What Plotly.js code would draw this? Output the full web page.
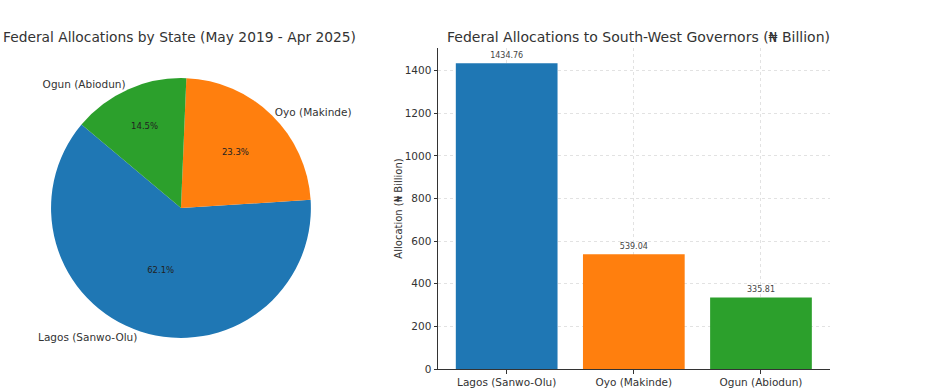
<!DOCTYPE html>
<html>
<head>
<meta charset="utf-8">
<script src="https://cdn.plot.ly/plotly-3.0.1.min.js"></script>
<style>html,body{margin:0;padding:0;background:#fff;}#chart{width:928px;height:390px;}</style>
</head>
<body>
<div id="chart"></div>
<script>
const governors = ["Lagos (Sanwo-Olu)", "Oyo (Makinde)", "Ogun (Abiodun)"];
const allocations = [1434.76, 539.04, 335.81];
const colors = ["#1f77b4", "#ff7f0e", "#2ca02c"];
const pieTitle = "Federal Allocations by State (May 2019 - Apr 2025)";
const barTitle = "Federal Allocations to South-West Governors (₦ Billion)";
const yTitle = "Allocation (₦ Billion)";
const yTicks = [0, 200, 400, 600, 800, 1000, 1200, 1400];

const font = "DejaVu Sans, sans-serif";
const pieDomain = {x: [0.055, 0.335], y: [0.1333, 0.8]};
const pieRotation = 86.4;

const piePct = {
  type: "pie", labels: governors, values: allocations, sort: false,
  direction: "counterclockwise", rotation: pieRotation,
  marker: {colors: colors, line: {width: 0}},
  textinfo: "percent", texttemplate: "%{percent:.1%}", textposition: "inside",
  insidetextorientation: "horizontal",
  textfont: {family: font, size: 8.5, color: "#222"},
  domain: pieDomain, showlegend: false, hoverinfo: "skip"
};
const pieLbl = {
  type: "pie", labels: governors, values: allocations, sort: false,
  direction: "counterclockwise", rotation: pieRotation,
  marker: {colors: ["rgba(0,0,0,0)", "rgba(0,0,0,0)", "rgba(0,0,0,0)"], line: {width: 0}},
  textinfo: "label", textposition: "outside",
  outsidetextfont: {family: font, size: 10.5, color: "#333"},
  domain: pieDomain, showlegend: false, hoverinfo: "skip"
};
const bars = {
  type: "bar", x: governors, y: allocations, xaxis: "x", yaxis: "y",
  marker: {color: colors, line: {width: 0}}, width: 0.8,
  text: allocations.map(v => v.toFixed(2)), textposition: "outside",
  textfont: {family: font, size: 8, color: "#444"}, cliponaxis: false,
  showlegend: false, hoverinfo: "skip"
};

const layout = {
  width: 928, height: 390,
  margin: {l: 0, r: 0, t: 0, b: 0},
  paper_bgcolor: "#fff", plot_bgcolor: "#fff",
  font: {family: font, color: "#333"},
  xaxis: {
    domain: [0.472, 0.894], range: [-0.54, 2.54], type: "category",
    showline: true, linecolor: "#333", linewidth: 1, mirror: false,
    ticks: "outside", ticklen: 3.5, tickcolor: "#333",
    showgrid: true, gridcolor: "rgba(190,190,190,0.55)", griddash: "dot", gridwidth: 0.8,
    tickfont: {family: font, size: 10.5, color: "#333"}, layer: "above traces",
    zeroline: false, fixedrange: true
  },
  yaxis: {
    domain: [0.0538, 0.877], range: [0, 1506.5],
    tickvals: yTicks, ticktext: yTicks.map(String),
    showline: true, linecolor: "#333", linewidth: 1, mirror: false,
    ticks: "outside", ticklen: 3.5, tickcolor: "#333",
    showgrid: true, gridcolor: "rgba(190,190,190,0.55)", griddash: "dot", gridwidth: 0.8,
    tickfont: {family: font, size: 10.5, color: "#333"}, layer: "above traces",
    zeroline: false,
    title: {text: yTitle, font: {family: font, size: 10, color: "#333"}, standoff: 0}
  },
  annotations: [
    {text: pieTitle, xref: "paper", yref: "paper", x: 179/928, y: (390-37)/390,
     xanchor: "center", yanchor: "middle", showarrow: false,
     font: {family: font, size: 13.8, color: "#333"}},
    {text: barTitle, xref: "paper", yref: "paper", x: 638/928, y: (390-37)/390,
     xanchor: "center", yanchor: "middle", showarrow: false,
     font: {family: font, size: 14, color: "#333"}}
  ]
};

Plotly.newPlot("chart", [piePct, pieLbl, bars], layout, {displayModeBar: false, staticPlot: true});
</script>
</body>
</html>
